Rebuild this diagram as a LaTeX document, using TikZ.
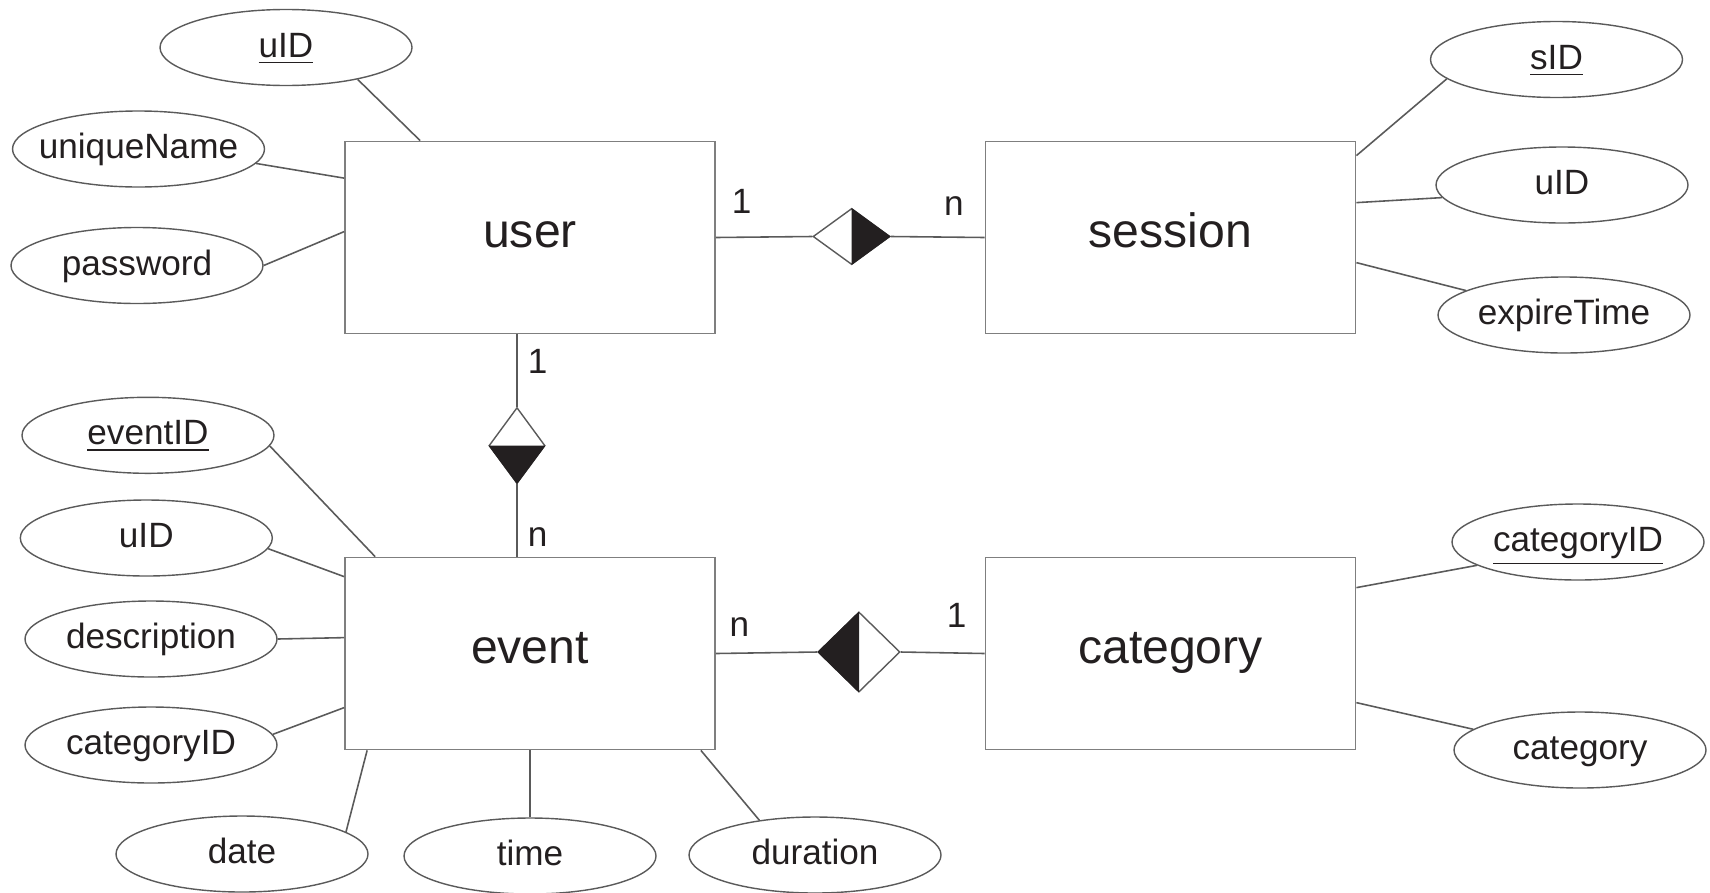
\documentclass[tikz,border=0pt]{standalone}
\usepackage{fontspec}
\setmainfont{Liberation Sans}
\usetikzlibrary{shapes.geometric}
\definecolor{erink}{HTML}{231F20}
\definecolor{erline}{HTML}{5A5A5A}
\definecolor{erbox}{HTML}{7F7F7F}

\begin{document}
\begin{tikzpicture}[
  font=\fontsize{10}{12}\selectfont, text=erink,
  entity/.style={draw=erbox, line width=0.5pt, minimum width=3.70cm,
                 minimum height=1.92cm, inner sep=0pt,
                 font=\fontsize{13.7}{16}\selectfont,
                 text height=0.19cm, text depth=0pt},
  attr/.style={ellipse, draw=erline, line width=0.4pt, minimum width=2.52cm,
               minimum height=0.76cm, inner xsep=-0.15cm, inner ysep=0pt,
               text height=0.19cm, text depth=0pt},
  rel/.style={diamond, draw=erline, line width=0.4pt, inner sep=0pt},
  ln/.style={draw=erline, line width=0.45pt},
  card/.style={anchor=base, inner sep=0pt}]

\useasboundingbox (0,0) rectangle (17.10,-8.92);

% ---- entities --------------------------------------------------------
\node[entity] (user)     at (5.30,-2.375)   {user};
\node[entity] (session)  at (11.705,-2.375) {session};
\node[entity] (event)    at (5.30,-6.535)   {event};
\node[entity] (category) at (11.705,-6.535) {category};

% ---- user attributes -------------------------------------------------
\node[attr] (uidu)  at (2.86,-0.475) {\underline{uID}};
\node[attr] (uname) at (1.385,-1.49) {uniqueName};
\node[attr] (pwd)   at (1.37,-2.655) {password};
\draw[ln] (uidu.-24) -- ([xshift=0.76cm]user.north west);
\draw[ln] (uname.-7) -- ([yshift=-0.375cm]user.north west);
\draw[ln] (pwd.east) -- ([yshift=-0.91cm]user.north west);

% ---- session attributes ----------------------------------------------
\node[attr] (sid)  at (15.565,-0.595) {\underline{sID}};
\node[attr] (uids) at (15.62,-1.85)   {uID};
\node[attr] (exp)  at (15.64,-3.15)   {expireTime};
\draw[ln] (sid.190) -- ([yshift=-0.15cm]session.north east);
\draw[ln] (uids.186) -- ([yshift=-0.62cm]session.north east);
\draw[ln] (exp.166) -- ([yshift=-1.22cm]session.north east);

% ---- event attributes ------------------------------------------------
\node[attr] (evid)   at (1.48,-4.353) {\underline{eventID}};
\node[attr] (uide)   at (1.463,-5.38) {uID};
\node[attr] (desc)   at (1.51,-6.39)  {description};
\node[attr] (catide) at (1.51,-7.45)  {categoryID};
\node[attr] (date)   at (2.42,-8.54)  {date};
\node[attr] (time)   at (5.30,-8.56)  {time};
\node[attr] (dur)    at (8.15,-8.55)  {duration};
\draw[ln] (evid.-5) -- ([xshift=0.31cm]event.north west);
\draw[ln] (uide.-5) -- ([yshift=-0.20cm]event.north west);
\draw[ln] (desc.east) -- ([yshift=-0.81cm]event.north west);
\draw[ln] (catide.5) -- ([yshift=-1.51cm]event.north west);
\draw[ln] (date.12) -- ([xshift=0.23cm]event.south west);
\draw[ln] (time.north) -- (event.south);
\draw[ln] (dur.148) -- ([xshift=-0.15cm]event.south east);

% ---- category attributes ---------------------------------------------
\node[attr] (catidc)  at (15.78,-5.42) {\underline{categoryID}};
\node[attr] (catname) at (15.80,-7.50) {category};
\draw[ln] (catidc.193) -- ([yshift=-0.31cm]category.north east);
\draw[ln] (catname.169) -- ([yshift=-1.46cm]category.north east);

% ---- relationships ---------------------------------------------------
\node[rel, minimum width=0.77cm, minimum height=0.56cm] (us) at (8.515,-2.365) {};
\fill[erink] (us.north) -- (us.east) -- (us.south) -- cycle;
\node[rel, minimum width=0.56cm, minimum height=0.76cm] (ue) at (5.17,-4.455) {};
\fill[erink] (ue.west) -- (ue.east) -- (ue.south) -- cycle;
\node[rel, minimum width=0.82cm, minimum height=0.80cm] (ec) at (8.59,-6.52) {};
\fill[erink] (ec.north) -- (ec.west) -- (ec.south) -- cycle;

\draw[ln] (user.east) -- (us.west);
\draw[ln] (us.east) -- (session.west);
\draw[ln] ([xshift=-0.13cm]user.south) -- (ue.north);
\draw[ln] (ue.south) -- ([xshift=-0.13cm]event.north);
\draw[ln] (event.east) -- (ec.west);
\draw[ln] (ec.east) -- (category.west);

% ---- cardinalities ---------------------------------------------------
\node[card] (cus1) at (7.416,-2.133) {1};
\node[card] (cusn) at (9.54,-2.15)   {n};
\node[card] (cue1) at (5.377,-3.73)  {1};
\node[card] (cuen) at (5.377,-5.46)  {n};
\node[card] (cecn) at (7.393,-6.36)  {n};
\node[card] (cec1) at (9.567,-6.273) {1};
\end{tikzpicture}
\end{document}
